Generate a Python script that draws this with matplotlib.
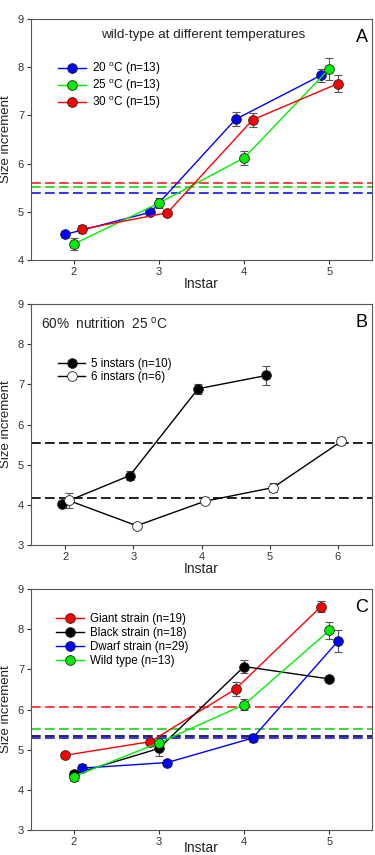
import matplotlib
matplotlib.use("Agg")
import matplotlib.pyplot as plt

plt.rcParams['font.family'] = ['Liberation Sans', 'DejaVu Sans']
plt.rcParams['mathtext.fontset'] = 'custom'
plt.rcParams['mathtext.rm'] = 'Liberation Sans'

# ---------------- Panel A data ----------------
instars_A = [2, 3, 4, 5]
a20 = [4.53, 4.99, 6.92, 7.83]
a20_err = [0.06, 0.06, 0.15, 0.14]
a25 = [4.33, 5.18, 6.12, 7.97]
a25_err = [0.13, 0.10, 0.15, 0.23]
a30 = [4.64, 4.98, 6.91, 7.66]
a30_err = [0.08, 0.05, 0.15, 0.18]
a_ref = [5.40, 5.52, 5.60]
a_labels = ['20 $^{\\mathrm{o}}$C (n=13)', '25 $^{\\mathrm{o}}$C (n=13)', '30 $^{\\mathrm{o}}$C (n=15)']

# ---------------- Panel B data ----------------
instars_B5 = [2, 3, 4, 5]
b5 = [4.03, 4.73, 6.89, 7.22]
b5_err = [0.07, 0.10, 0.12, 0.24]
instars_B6 = [2, 3, 4, 5, 6]
b6 = [4.11, 3.48, 4.09, 4.43, 5.58]
b6_err = [0.18, 0.08, 0.05, 0.11, 0.10]
b_ref = [5.55, 4.16]
b_labels = ['5 instars (n=10)', '6 instars (n=6)']

# ---------------- Panel C data ----------------
instars_C = [2, 3, 4, 5]
c_giant = [4.86, 5.20, 6.51, 8.56]
c_giant_err = [0.05, 0.05, 0.17, 0.13]
c_black = [4.39, 5.03, 7.07, 6.76]
c_black_err = [0.08, 0.18, 0.15, 0.08]
c_dwarf = [4.54, 4.68, 5.29, 7.70]
c_dwarf_err = [0.10, 0.06, 0.11, 0.28]
c_wild = [4.33, 5.17, 6.12, 7.97]
c_wild_err = [0.12, 0.08, 0.13, 0.22]
c_ref = [6.05, 5.33, 5.28, 5.52]
c_labels = ['Giant strain (n=19)', 'Black strain (n=18)', 'Dwarf strain (n=29)', 'Wild type (n=13)']

BLUE = '#0000ff'
GREEN = '#00ee00'
RED = '#ff0000'
BLACK = '#000000'
RED_D = '#ff4040'
GREEN_D = '#33dd33'
BLUE_D = '#3333ff'

fig = plt.figure(figsize=(3.75, 8.55), dpi=100)
L, R = 31 / 375, 372 / 375
W = R - L


def ax_at(top_px, bot_px):
    return fig.add_axes([L, 1 - bot_px / 855, W, (bot_px - top_px) / 855])


def style(ax, xlim, ylim, xticks, yticks, xlabelpad=0):
    ax.set_xlim(*xlim)
    ax.set_ylim(*ylim)
    ax.set_xticks(xticks)
    ax.set_yticks(yticks)
    ax.tick_params(direction='out', length=3, width=0.8, labelsize=8, colors='#333333', pad=2)
    for s in ax.spines.values():
        s.set_color('#555555')
        s.set_linewidth(0.8)
    ax.set_xlabel('Instar', fontsize=10, labelpad=xlabelpad, color='#222222')
    ax.set_ylabel('Size increment', fontsize=9.5, labelpad=4, color='#222222')


def series(ax, x, y, e, color, off, label, fc=None):
    xs = [v + off for v in x]
    ax.errorbar(xs, y, yerr=e, fmt='none', ecolor='#555555', elinewidth=0.8,
                capsize=3, capthick=0.8, zorder=3)
    ax.plot(xs, y, '-', color=color, lw=1.0, marker='o', ms=7,
            mfc=fc if fc else color, mec='#222222', mew=0.6, label=label, zorder=4)


def dash(ax, yv, color):
    ax.axhline(yv, color=color, lw=1.4, ls=(0, (5, 2.2)), zorder=2)


LEG = dict(loc='upper left', frameon=False, handlelength=2.4, handletextpad=0.5,
           borderaxespad=0)

# ---- A ----
axA = ax_at(19, 260)
style(axA, (1.5, 5.5), (4, 9), instars_A, [4, 5, 6, 7, 8, 9])
for yv, c in zip(a_ref, [BLUE_D, GREEN_D, RED_D]):
    dash(axA, yv, c)
series(axA, instars_A, a20, a20_err, BLUE, -0.1, a_labels[0])
series(axA, instars_A, a25, a25_err, GREEN, 0.0, a_labels[1])
series(axA, instars_A, a30, a30_err, RED, 0.1, a_labels[2])
axA.text(0.504, 0.933, 'wild-type at different temperatures', transform=axA.transAxes,
         ha='center', va='center', fontsize=9.7, color='#222222')
axA.text(0.988, 0.925, 'A', transform=axA.transAxes, ha='right', va='center', fontsize=13)
axA.legend(bbox_to_anchor=(0.065, 0.847), fontsize=8.5, labelspacing=0.0, **LEG)

# ---- B ----
axB = ax_at(304, 545)
style(axB, (1.5, 6.5), (3, 9), instars_B6, [3, 4, 5, 6, 7, 8, 9])
for yv in b_ref:
    dash(axB, yv, '#222222')
series(axB, instars_B5, b5, b5_err, BLACK, -0.05, b_labels[0])
series(axB, instars_B6, b6, b6_err, BLACK, 0.05, b_labels[1], fc='white')
axB.text(0.03, 0.917, '60%  nutrition  25 $^{\\mathrm{o}}$C', transform=axB.transAxes,
         ha='left', va='center', fontsize=9.8, color='#222222')
axB.text(0.988, 0.925, 'B', transform=axB.transAxes, ha='right', va='center', fontsize=13)
axB.legend(bbox_to_anchor=(0.065, 0.795), fontsize=8.3, labelspacing=0.1, **LEG)

# ---- C ----
axC = ax_at(589, 830)
style(axC, (1.5, 5.5), (3, 9), instars_C, [3, 4, 5, 6, 7, 8, 9], xlabelpad=-4)
for yv, c in zip(c_ref, [RED_D, '#222255', BLUE_D, GREEN_D]):
    dash(axC, yv, c)
series(axC, instars_C, c_giant, c_giant_err, RED, -0.1, c_labels[0])
series(axC, instars_C, c_black, c_black_err, BLACK, 0.0, c_labels[1])
series(axC, instars_C, c_dwarf, c_dwarf_err, BLUE, 0.1, c_labels[2])
series(axC, instars_C, c_wild, c_wild_err, GREEN, 0.0, c_labels[3])
axC.text(0.988, 0.925, 'C', transform=axC.transAxes, ha='right', va='center', fontsize=13)
axC.legend(bbox_to_anchor=(0.06, 0.92), fontsize=8.3, labelspacing=0.17, **LEG)

fig.savefig('out.png', dpi=100, facecolor='white')
